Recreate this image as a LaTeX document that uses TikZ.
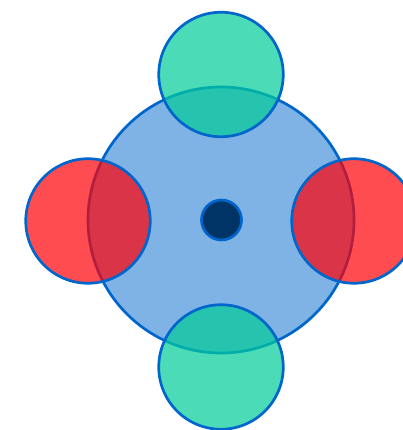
\documentclass[tikz,border=0pt]{standalone}
\usepackage{xcolor}
\usepackage{tikz}
\usetikzlibrary{positioning}

\definecolor{hubblue}{HTML}{0066CC}
\definecolor{hubdark}{HTML}{003366}
\definecolor{satgreen}{HTML}{00CC99}
\definecolor{satred}{HTML}{FF0005}

\begin{document}
\begin{tikzpicture}[x=1pt, y=1pt,
  every node/.style={circle, draw=hubblue, line width=2.7pt, inner sep=0pt},
  sat/.style={fill opacity=0.7, minimum size=124.5pt}]
\useasboundingbox (0,0) rectangle (403,430);
\node[fill=hubblue, fill opacity=0.5, minimum size=266pt] (hub) at (221,210) {};
\node[sat, fill=satgreen] (north) at (221,355.5) {};
\node[sat, fill=satgreen] (south) at (221,63) {};
\node[sat, fill=satred] (west) at (88,209) {};
\node[sat, fill=satred] (east) at (354,209) {};
\node[fill=hubdark, minimum size=40pt] (core) at (221.5,210) {};
\end{tikzpicture}
\end{document}
